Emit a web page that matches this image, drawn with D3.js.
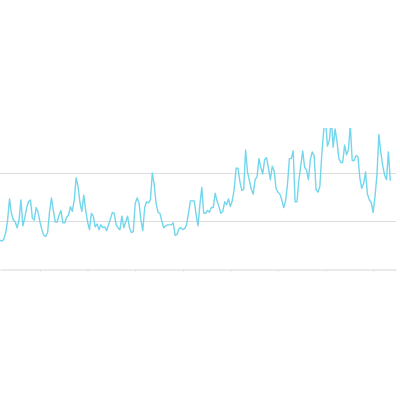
<!DOCTYPE html>
<html>
<style>
  body { margin: 0; background: #fff; }
</style>
<body>
<script src="https://d3js.org/d3.v7.min.js"></script>
<script>
// series: one reading per day, starting at day 4
var startDay = 4;
var values = [
  30, 29, 31, 38, 51, 73, 58, 51, 49, 43, 51, 72, 45, 53, 64, 70, 72, 53, 51, 64,
  59, 49, 41, 35, 34, 38, 59, 74, 61, 49, 49, 56, 61, 48, 48, 54, 56, 65, 60, 72,
  95, 86, 69, 60, 77, 61, 49, 41, 58, 55, 44, 47, 41, 46, 43, 44, 40, 46, 52, 59,
  58, 46, 43, 41, 55, 43, 49, 55, 43, 38, 39, 68, 74, 69, 51, 40, 64, 70, 69, 72,
  100, 88, 68, 59, 58, 50, 43, 45, 46, 46, 46, 48, 35, 36, 42, 43, 41, 42, 46, 58,
  71, 71, 71, 57, 45, 67, 85, 58, 58, 61, 59, 64, 64, 79, 71, 65, 58, 60, 70, 67,
  73, 65, 71, 83, 105, 105, 91, 82, 83, 124, 101, 92, 83, 78, 93, 96, 115, 106, 99, 114,
  116, 105, 93, 107, 102, 84, 80, 78, 72, 64, 71, 88, 115, 115, 123, 70, 70, 93, 108, 123,
  106, 103, 93, 114, 122, 118, 83, 80, 86, 119, 144, 155, 128, 134, 156, 127, 146, 133, 115, 111,
  111, 129, 119, 124, 150, 113, 113, 118, 117, 95, 84, 89, 101, 78, 72, 69, 59, 76, 98, 140,
  122, 108, 98, 93, 122, 92
];
var gridValues = [50, 100];
var tickDays = [25, 50, 75, 100, 125, 150, 175, 200];

var width = 400, height = 400;
var plotLeft = 0, plotRight = 396, plotTop = 128, plotBottom = 269;

var svg = d3.select("body")
  .append("svg")
  .attr("width", width)
  .attr("height", height);

var x = d3.scaleLinear()
  .domain([4, 212])
  .range([plotLeft, plotRight]);

var y = d3.scaleLinear()
  .domain([0, 100])
  .range([plotBottom, 173]);

svg.append("defs").append("clipPath")
  .attr("id", "plot")
  .append("rect")
  .attr("x", plotLeft)
  .attr("y", plotTop)
  .attr("width", plotRight - plotLeft)
  .attr("height", plotBottom - plotTop);

// horizontal grid
svg.append("g")
  .selectAll("line")
  .data(gridValues)
  .join("line")
  .attr("x1", plotLeft)
  .attr("x2", plotRight)
  .attr("y1", function(d) { return y(d) + 0.5; })
  .attr("y2", function(d) { return y(d) + 0.5; })
  .attr("stroke", "#dcdcdc")
  .attr("stroke-width", 1);

// x axis, labels hidden
var xAxis = svg.append("g")
  .attr("transform", "translate(0," + (plotBottom + 0.5) + ")")
  .call(d3.axisBottom(x).tickValues(tickDays).tickSize(2).tickSizeOuter(0).tickFormat(""));
xAxis.select(".domain").attr("stroke", "#d6d6d6");
xAxis.selectAll(".tick line").attr("stroke", "#d6e0ee");

var line = d3.line()
  .x(function(d, i) { return x(startDay + i); })
  .y(function(d) { return y(d); });

svg.append("path")
  .datum(values)
  .attr("clip-path", "url(#plot)")
  .attr("fill", "none")
  .attr("stroke", "#72d6ec")
  .attr("stroke-width", 1.4)
  .attr("stroke-linejoin", "round")
  .attr("d", line);
</script>
</body>
</html>
